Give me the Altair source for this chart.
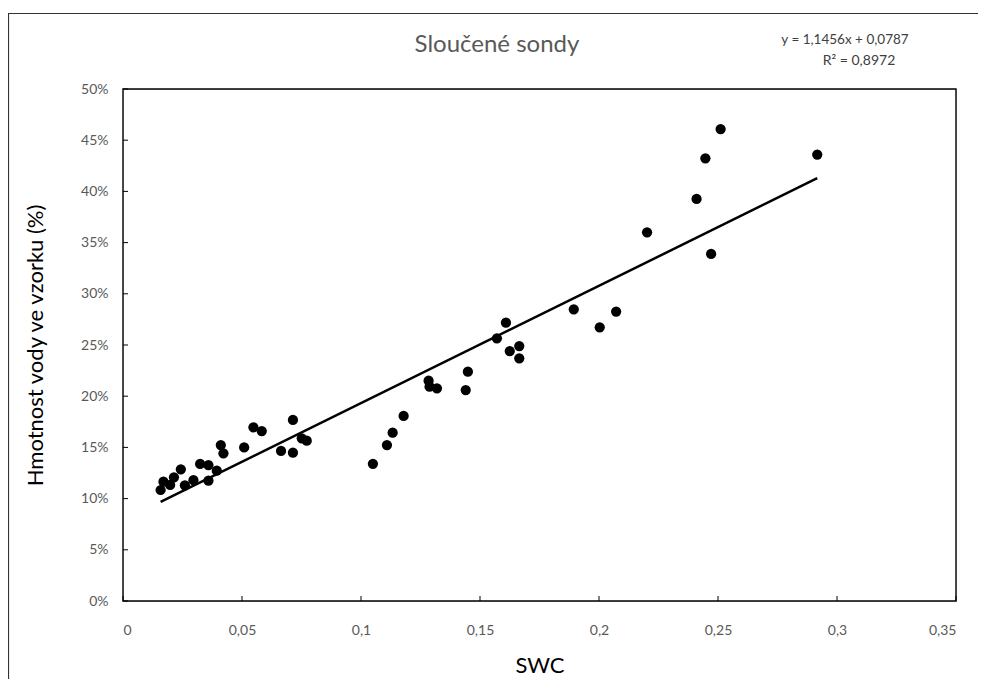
import altair as alt
import pandas as pd

# ---- data ----
swc = [0.0158, 0.0170, 0.0198, 0.0214, 0.0243, 0.0260, 0.0296, 0.0324, 0.0359, 0.0359,
       0.0394, 0.0411, 0.0422, 0.0509, 0.0548, 0.0583, 0.0664, 0.0714, 0.0714, 0.0751,
       0.0772, 0.1050, 0.1109, 0.1133, 0.1179, 0.1284, 0.1288, 0.1319, 0.1440, 0.1449,
       0.1571, 0.1609, 0.1625, 0.1665, 0.1665, 0.1894, 0.2003, 0.2072, 0.2202, 0.2410,
       0.2447, 0.2471, 0.2511, 0.2917]
mass = [0.1084, 0.1165, 0.1133, 0.1208, 0.1286, 0.1130, 0.1180, 0.1338, 0.1328, 0.1175,
        0.1273, 0.1523, 0.1442, 0.1500, 0.1696, 0.1660, 0.1465, 0.1768, 0.1448, 0.1589,
        0.1566, 0.1340, 0.1523, 0.1644, 0.1807, 0.2152, 0.2093, 0.2077, 0.2060, 0.2239,
        0.2565, 0.2718, 0.2441, 0.2490, 0.2370, 0.2848, 0.2673, 0.2826, 0.3600, 0.3926,
        0.4323, 0.3389, 0.4609, 0.4360]

trend_slope = [1.1456]
trend_intercept = [0.0787]
trend_labels = ["y = 1,1456x + 0,0787", "R² = 0,8972"]

x_ticks = [0, 0.05, 0.1, 0.15, 0.2, 0.25, 0.3, 0.35]
y_ticks = [0, 0.05, 0.1, 0.15, 0.2, 0.25, 0.3, 0.35, 0.4, 0.45, 0.5]

chart_title = ["Sloučené sondy"]
x_title = "SWC"
y_title = "Hmotnost vody ve vzorku (%)"

# ---- tables ----
pts = pd.DataFrame({"swc": swc, "mass": mass})
xs = [min(swc), max(swc)]
line_df = pd.DataFrame({"swc": xs,
                        "mass": [trend_slope[0] * v + trend_intercept[0] for v in xs]})
xt = pd.DataFrame({"v": x_ticks})
yt = pd.DataFrame({"v": y_ticks})
one = pd.DataFrame({"a": [0]})

W, H = 833, 512
FONT = "Lato"
GRAY = "#595959"

xscale = alt.Scale(domain=[0, 0.35], nice=False, zero=True)
yscale = alt.Scale(domain=[0, 0.5], nice=False, zero=True)

xaxis = alt.Axis(values=x_ticks, labelExpr="replace(format(datum.value, ''), '.', ',')",
                 ticks=False, tickSize=0, labelPadding=22, grid=False, domain=False,
                 labelColor=GRAY, labelFontSize=14, labelFont=FONT,
                 title=x_title, titleFont=FONT, titleFontSize=22, titleFontWeight="normal",
                 titleColor="black", titleX=W / 2, titleY=64, titleBaseline="middle")
yaxis = alt.Axis(values=y_ticks, format=".0%", ticks=False, tickSize=0, labelPadding=15,
                 grid=False, domain=False, labelColor=GRAY, labelFontSize=14, labelFont=FONT,
                 title=y_title, titleFont=FONT, titleFontSize=22, titleFontWeight="normal",
                 titleColor="black", titleX=-88, titleY=H / 2, titleAngle=270,
                 titleAlign="center", titleBaseline="middle")

points = alt.Chart(pts).mark_circle(size=105, color="black", opacity=1).encode(
    x=alt.X("swc:Q", scale=xscale, axis=xaxis),
    y=alt.Y("mass:Q", scale=yscale, axis=yaxis),
)

trend = alt.Chart(line_df).mark_line(color="black", strokeWidth=2.5).encode(
    x=alt.X("swc:Q", scale=xscale),
    y=alt.Y("mass:Q", scale=yscale),
)

xtick_marks = alt.Chart(xt).mark_rule(color="black", strokeWidth=1).encode(
    x=alt.X("v:Q", scale=xscale), y=alt.value(H), y2=alt.value(H - 5))
ytick_marks = alt.Chart(yt).mark_rule(color="black", strokeWidth=1).encode(
    y=alt.Y("v:Q", scale=yscale), x=alt.value(0), x2=alt.value(5))

plot_box = alt.Chart(one).mark_rect(fillOpacity=0, stroke="black", strokeWidth=1.4).encode(
    x=alt.value(0), x2=alt.value(W), y=alt.value(0), y2=alt.value(H))

title_mark = alt.Chart(pd.DataFrame({"t": chart_title})).mark_text(
    font=FONT, fontSize=24, color=GRAY, align="center", baseline="middle").encode(
    text="t:N", x=alt.value(374), y=alt.value(-44))

eq1 = alt.Chart(pd.DataFrame({"t": [trend_labels[0]]})).mark_text(
    font=FONT, fontSize=13.5, color="#404040", align="center", baseline="middle").encode(
    text="t:N", x=alt.value(722), y=alt.value(-49))
eq2 = alt.Chart(pd.DataFrame({"t": [trend_labels[1]]})).mark_text(
    font=FONT, fontSize=14, color="#404040", align="center", baseline="middle").encode(
    text="t:N", x=alt.value(736), y=alt.value(-28))

border_left = alt.Chart(one).mark_rule(color="#333333", strokeWidth=1.2).encode(
    x=alt.value(-114.5), y=alt.value(-76), y2=alt.value(H + 120))
border_top = alt.Chart(one).mark_rule(color="#333333", strokeWidth=1.2).encode(
    y=alt.value(-75.5), x=alt.value(-115), x2=alt.value(W + 60))

chart = alt.layer(border_left, border_top, plot_box, points, trend, xtick_marks, ytick_marks,
                  title_mark, eq1, eq2).properties(
    width=W, height=H,
    autosize=alt.AutoSizeParams(type="none"),
    padding={"left": 115, "top": 81, "right": 22, "bottom": 78},
).configure_view(stroke=None).configure(background="white")

chart.save("out.html", embed_options={"renderer": "svg", "actions": False})
